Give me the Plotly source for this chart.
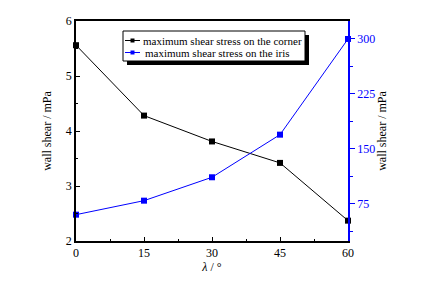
import plotly.graph_objects as go

angles = [0, 15, 30, 45, 60]
corner_stress = [5.56, 4.28, 3.81, 3.42, 2.37]
iris_stress = [60.4, 79.5, 111.4, 169.5, 300]
x_ticks = [0, 15, 30, 45, 60]
left_ticks = [2, 3, 4, 5, 6]
right_ticks = [75, 150, 225, 300]
legend_names = ["maximum shear stress on the corner", "maximum shear stress on the iris"]
colors = ["black", "blue"]

FONT = "Liberation Serif"
OFF = 8  # page body margin
W, H = 432 - OFF, 296 - OFF
L, R, T, B = 76 - OFF, 84, 21 - OFF, 55
pw = W - L - R
ph = H - T - B


def px_x(p):  # page pixel -> paper
    return (p - OFF - L) / pw


def px_y(p):
    return (OFF + T + ph - p) / ph


fig = go.Figure()
fig.add_trace(go.Scatter(
    x=angles, y=corner_stress, mode="lines+markers", name=legend_names[0],
    line=dict(color=colors[0], width=1),
    marker=dict(symbol="square", size=6, color=colors[0]),
    yaxis="y", cliponaxis=False, showlegend=False))
fig.add_trace(go.Scatter(
    x=angles, y=iris_stress, mode="lines+markers", name=legend_names[1],
    line=dict(color=colors[1], width=1),
    marker=dict(symbol="square", size=6, color=colors[1]),
    yaxis="y2", cliponaxis=False, showlegend=False))

# manual legend box with shadow
lx0, lx1, ly0, ly1 = 123, 305, 31, 61
shapes = [
    dict(type="rect", xref="paper", yref="paper",
         x0=px_x(lx0 + 4), x1=px_x(lx1 + 4), y0=px_y(ly1 + 4), y1=px_y(ly0 + 4),
         fillcolor="black", line=dict(width=0), layer="above"),
    dict(type="rect", xref="paper", yref="paper",
         x0=px_x(lx0), x1=px_x(lx1), y0=px_y(ly1), y1=px_y(ly0),
         fillcolor="white", line=dict(color="black", width=1), layer="above"),
]
annotations = []
rows_y = [40.5, 52.5]
for i, (name, c) in enumerate(zip(legend_names, colors)):
    yy = rows_y[i]
    shapes.append(dict(type="line", xref="paper", yref="paper",
                       x0=px_x(125), x1=px_x(140), y0=px_y(yy), y1=px_y(yy),
                       line=dict(color=c, width=1), layer="above"))
    shapes.append(dict(type="rect", xref="paper", yref="paper",
                       x0=px_x(130.5), x1=px_x(134.5), y0=px_y(yy + 2), y1=px_y(yy - 2),
                       fillcolor=c, line=dict(width=0), layer="above"))
    annotations.append(dict(xref="paper", yref="paper", x=px_x(141 + 2 * i), y=px_y(yy),
                            xanchor="left", yanchor="middle", showarrow=False,
                            text=name, font=dict(family=FONT, size=11, color="black")))

fig.update_layout(
    width=W, height=H,
    margin=dict(l=L, r=R, t=T, b=B, autoexpand=False),
    plot_bgcolor="white", paper_bgcolor="white",
    font=dict(family=FONT, size=12, color="black"),
    showlegend=False,
    shapes=shapes, annotations=annotations,
    xaxis=dict(range=[0, 60], tickvals=x_ticks, ticks="inside", ticklen=4,
               tickcolor="black", showline=True, linecolor="black", linewidth=1.5,
               mirror=True, showgrid=False, zeroline=False,
               minor=dict(dtick=7.5, ticks="inside", ticklen=2, tickcolor="black"),
               title=dict(text="<i>λ</i> / °", font=dict(size=12), standoff=3),
               tickfont=dict(size=12)),
    yaxis=dict(range=[2, 6], tickvals=left_ticks, ticks="inside", ticklen=4,
               tickcolor="black", showline=True, linecolor="black", linewidth=1.5,
               showgrid=False, zeroline=False,
               minor=dict(dtick=0.5, ticks="inside", ticklen=2, tickcolor="black"),
               title=dict(text="wall shear / mPa", font=dict(size=12), standoff=12),
               tickfont=dict(size=12)),
    yaxis2=dict(range=[24.5, 324.5], tickvals=right_ticks, overlaying="y", side="right",
                ticks="outside", ticklen=5, tickcolor="blue", showline=True,
                linecolor="blue", linewidth=1.5, showgrid=False, zeroline=False,
                minor=dict(tickvals=[37.5, 112.5, 187.5, 262.5], ticks="outside",
                           ticklen=3, tickcolor="blue"),
                tickfont=dict(size=12, color="blue"),
                title=dict(text="wall shear / mPa", font=dict(size=12, color="black"),
                           standoff=1)),
)

fig.write_html("out.html")
